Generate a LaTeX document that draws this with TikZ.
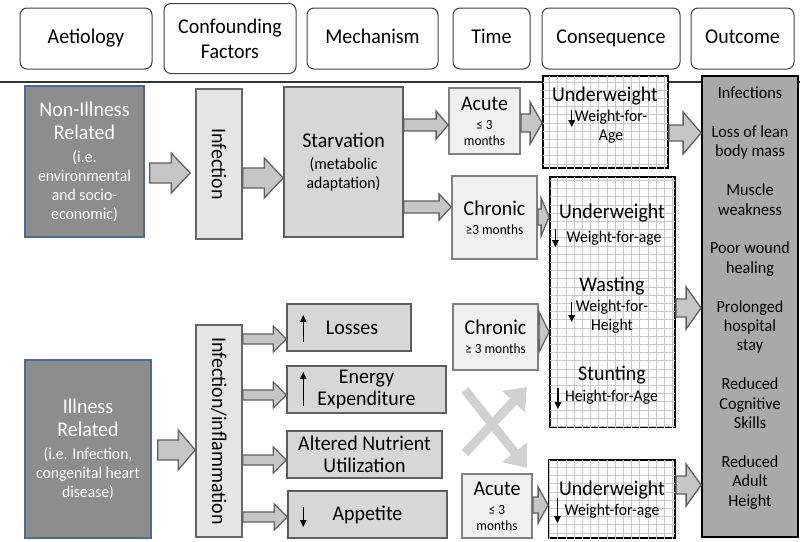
\documentclass[tikz,border=0pt]{standalone}
\usepackage{fontspec}
\setmainfont{Carlito}[FakeStretch=0.95]
\usetikzlibrary{positioning, calc, patterns.meta, arrows.meta}

\definecolor{aetfill}{HTML}{8D8D8D}
\definecolor{aetline}{HTML}{4A6A9C}
\definecolor{arrfill}{HTML}{C6C6C6}
\definecolor{arrline}{HTML}{606060}
\definecolor{outfill}{HTML}{A9A9A9}

\newcommand{\fbig}{\fontsize{21}{25}\selectfont}
\newcommand{\fmid}{\fontsize{16.5}{19}\selectfont}
\newcommand{\fsmall}{\fontsize{14}{16}\selectfont}
\newcommand{\fout}{\fontsize{17}{19.4}\selectfont}

% fat arrow from #1 to #2 at height #3 (body half, head half, head length)
\newcommand{\barrow}[6]{%
  \coordinate (ay) at (0,#3);
  \filldraw[blockarr] let \p1=(#1 |- ay), \p2=(#2 |- ay) in
    (\x1,\y1+#4pt) -- (\x2-#6pt,\y1+#4pt) -- (\x2-#6pt,\y1+#5pt) -- (\x2,\y1)
    -- (\x2-#6pt,\y1-#5pt) -- (\x2-#6pt,\y1-#4pt) -- (\x1,\y1-#4pt) -- cycle;}

\begin{document}
\begin{tikzpicture}[x=1pt, y=-1pt,
    hdr/.style={draw=black!75, line width=1pt, rounded corners=7pt, fill=white, minimum height=61pt, align=center, font=\fbig, inner sep=1pt},
    hdrone/.style={hdr, text height=14pt, text depth=4pt},
    dims/.style 2 args={minimum width=#1pt, minimum height=#2pt, inner sep=1pt},
    aetbox/.style={draw=aetline, line width=1.6pt, fill=aetfill, text=white, align=center, font=\fmid},
    infbox/.style={draw=black!60, line width=1.6pt, fill=black!10, font=\fbig},
    dotbox/.style={draw=black!65, line width=1.5pt, fill=black!14, align=center, postaction={pattern={Dots[distance=2pt,radius=0.45pt]}, pattern color=black!32}},
    timebox/.style={draw=black!50, line width=1.8pt, fill=black!6, align=center, font=\fsmall},
    gridbox/.style={draw=black, line width=1.8pt, fill=white, postaction={pattern={Hatch[distance=8.2pt,line width=0.35pt]}, pattern color=black!22}},
    outbox/.style={draw=black, line width=1.8pt, fill=outfill},
    blockarr/.style={fill=arrfill, draw=arrline, line width=1.3pt},
    crossarr/.style={draw=black!18, line width=9pt, -{Triangle[length=20pt,width=30pt]}},
    thinarr/.style={line width=1.5pt, -{Triangle[length=7pt,width=6.5pt]}}]

    \useasboundingbox (0,0) rectangle (800,541);

    % header row
    \node (aet) [hdrone, minimum width=132pt] at (86,38.5) {Aetiology};
    \node (conf) [hdr, minimum width=132pt, minimum height=70pt, right=11pt of aet] {Confounding\\Factors};
    \node (mech) [hdrone, minimum width=131pt, right=10pt of conf] {Mechanism};
    \node (time) [hdrone, minimum width=77pt, right=14pt of mech] {Time};
    \node (cons) [hdrone, minimum width=138pt, right=11pt of time] {Consequence};
    \node (outh) [hdrone, minimum width=103pt, right=10pt of cons] {Outcome};
    \draw [line width=1.5pt, black!80] (0,82) -- (800,82);

    % non-illness branch
    \node (nonill) [aetbox, dims={119}{151}] at (84.5,161.5) {\fbig Non-Illness\\[4pt]\fbig Related\\[4pt]\fmid (i.e.\\environmental\\and socio-\\economic)};
    \node (inf) [infbox, dims={46}{150}] at (219,164) {\rotatebox{-90}{Infection}};
    \node (starv) [dotbox, dims={119}{150}, font=\fmid] at (343.5,162) {\fbig Starvation\\[3pt](metabolic\\adaptation)};
    \node (acute1) [timebox, dims={71}{66}] at (484.5,121) {\fbig Acute\\[3pt]≤ 3\\months};
    \node (chron1) [timebox, dims={85}{83}] at (494.5,217.5) {\fbig Chronic\\[3pt]≥3 months};
    \node (uw1) [gridbox, dims={125}{92}] at (605.5,122) {};
    \node (uw1a) [font=\fbig, inner sep=0] at (605,96) {Underweight};
    \node (uw1b) [font=\fmid, inner sep=0, align=center] at (611,127) {Weight-for-\\Age};

    % illness branch
    \node (ill) [aetbox, dims={126}{178}] at (88,449) {\fbig Illness\\[4pt]\fbig Related\\[4pt]\fmid (i.e. Infection,\\congenital heart\\disease)};
    \node (infl) [infbox, dims={46}{212}] at (219,431) {\rotatebox{-90}{Infection/inflammation}};
    \node (loss) [dotbox, dims={124}{47}, font=\fbig] at (349,327.5) {\hspace*{6pt}Losses};
    \node (energy) [dotbox, dims={159}{47}, font=\fbig] at (366.5,389.5) {Energy\\[-3pt]Expenditure};
    \node (alter) [dotbox, dims={155}{47}, font=\fbig] at (364.5,454.5) {Altered Nutrient\\[-3pt]Utilization};
    \node (appet) [dotbox, dims={159}{47}, font=\fbig] at (367.5,514.5) {Appetite};
    \node (chron2) [timebox, dims={85}{66}] at (495.5,337) {\fbig Chronic\\[3pt]≥ 3 months};
    \node (acute2) [timebox, dims={70}{64}] at (497,506) {\fbig Acute\\[3pt]≤ 3\\months};

    % consequences
    \node (cbig) [gridbox, dims={125}{250}] at (612.5,302) {};
    \node (cuwa) [font=\fbig, inner sep=0] at (612,213) {Underweight};
    \node (cuwb) [font=\fmid, inner sep=0] at (614,238) {Weight-for-age};
    \node (cwasa) [font=\fbig, inner sep=0] at (612,286) {Wasting};
    \node (cwasb) [font=\fmid, inner sep=0, align=center] at (612,317) {Weight-for-\\Height};
    \node (cstua) [font=\fbig, inner sep=0] at (612,375) {Stunting};
    \node (cstub) [font=\fmid, inner sep=0] at (611.5,397) {Height-for-Age};
    \node (uw2) [gridbox, dims={126}{78}] at (612,499) {};
    \node (uw2a) [font=\fbig, inner sep=0] at (612,490) {Underweight};
    \node (uw2b) [font=\fmid, inner sep=0] at (612,511) {Weight-for-age};

    % outcome
    \node (outc) [outbox, dims={96}{461}] at (750,306.5) {};
    \node (outtxt) [font=\fout, align=center, inner sep=0] at (750,298) {Infections\\[19.4pt]Loss of lean\\body mass\\[19.4pt]Muscle\\weakness\\[19.4pt]Poor wound\\healing\\[19.4pt]Prolonged\\hospital\\stay\\[19.4pt]Reduced\\Cognitive\\Skills\\[19.4pt]Reduced\\Adult\\Height};

    % small up/down arrows
    \draw [thinarr] ([xshift=-3pt,yshift=17pt]uw1b.west) -- ([xshift=-3pt,yshift=0pt]uw1b.west);
    \draw [thinarr] ([xshift=-11pt,yshift=9pt]cuwb.west) -- ([xshift=-11pt,yshift=-9pt]cuwb.west);
    \draw [thinarr] ([xshift=-4pt,yshift=15pt]cwasb.west) -- ([xshift=-4pt,yshift=-5pt]cwasb.west);
    \draw [thinarr] ([xshift=-7pt,yshift=9pt]cstub.west) -- ([xshift=-7pt,yshift=-12pt]cstub.west);
    \draw [thinarr] ([xshift=-7pt,yshift=13pt]uw2b.west) -- ([xshift=-7pt,yshift=-12pt]uw2b.west);
    \draw [thinarr] ([xshift=17pt,yshift=-14.5pt]loss.west) -- ([xshift=17pt,yshift=12.5pt]loss.west);
    \draw [thinarr] ([xshift=17pt,yshift=-16.5pt]energy.west) -- ([xshift=17pt,yshift=17.5pt]energy.west);
    \draw [thinarr] ([xshift=16pt,yshift=7.5pt]appet.west) -- ([xshift=16pt,yshift=-12.5pt]appet.west);

    % block arrows
    \coordinate (nonillout) at ([xshift=5pt]nonill.east);
    \coordinate (infin) at ([xshift=-5pt]inf.west);
    \barrow{nonillout}{infin}{173}{10}{20}{19}
    \barrow{inf.east}{starv.west}{178}{10}{20}{19}
    \barrow{starv.east}{acute1.west}{125}{6}{14}{12}
    \barrow{starv.east}{chron1.west}{207}{6}{13}{12}
    \barrow{acute1.east}{uw1.west}{123}{9}{21}{12}
    \barrow{uw1.east}{outc.west}{133}{8}{21}{18}
    \barrow{chron1.east}{cbig.west}{217}{8}{19}{8}
    \barrow{chron2.east}{cbig.west}{332}{8}{20}{10}
    \barrow{cbig.east}{outc.west}{308}{9}{21}{15}
    \barrow{acute2.east}{uw2.west}{505}{8}{18}{10}
    \barrow{uw2.east}{outc.west}{485}{9}{21}{15}
    \coordinate (illout) at ([xshift=6pt]ill.east);
    \barrow{illout}{infl.west}{450}{10}{20}{17}
    \barrow{infl.east}{loss.west}{339}{5}{13}{13}
    \barrow{infl.east}{energy.west}{395}{5}{13}{13}
    \barrow{infl.east}{alter.west}{460}{5}{13}{13}
    \barrow{infl.east}{appet.west}{517}{5}{13}{13}

    % crossing arrows
    \coordinate (xa) at (465,390);
    \coordinate (xb) at (527,468);
    \coordinate (xc) at (465,453);
    \coordinate (xd) at (527,387);
    \draw [crossarr] (xa) -- (xb);
    \draw [crossarr] (xc) -- (xd);

\end{tikzpicture}
\end{document}
